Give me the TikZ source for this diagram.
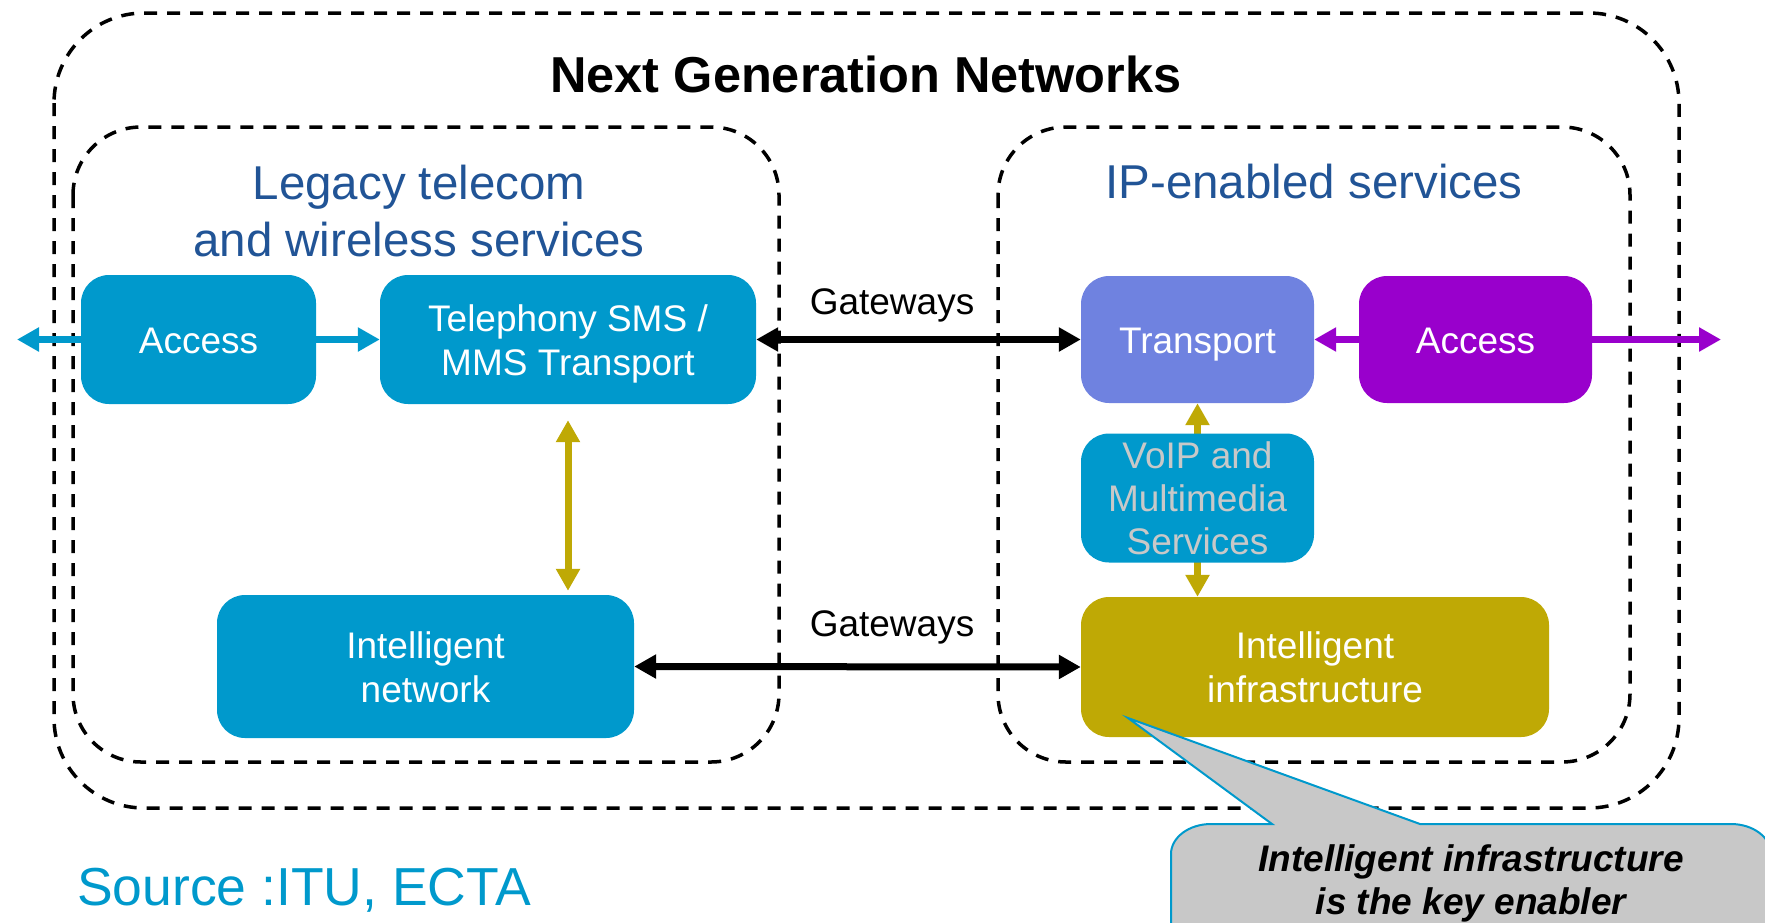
\documentclass[tikz,border=0pt]{standalone}
\usepackage{fontspec}
\setmainfont{Liberation Sans}
\usetikzlibrary{arrows.meta}
\definecolor{cblue}{RGB}{0,153,204}
\definecolor{cnavy}{RGB}{33,84,150}
\definecolor{ctrans}{RGB}{111,130,224}
\definecolor{cpurple}{RGB}{153,0,204}
\definecolor{colive}{RGB}{191,169,5}
\definecolor{cgray}{RGB}{200,200,200}
\newcommand{\boxtext}[2][5pt]{\raisebox{-#1}[\height][\depth]{\begin{tabular}{@{}c@{}}#2\end{tabular}}}
\tikzset{
  dashedbox/.style={draw=black, line width=3.5pt, dash pattern=on 13pt off 10pt},
  block/.style={rounded corners=28pt, text=white, inner sep=0pt, align=center,
    font=\fontsize{37}{44}\selectfont},
  heading/.style={text=cnavy, align=center, font=\fontsize{47.5}{57}\selectfont},
  tip/.style={-{Triangle[length=22pt,width=23pt]}},
  dtip/.style={{Triangle[length=22pt,width=23pt]}-{Triangle[length=22pt,width=23pt]}},
  conn/.style={line width=7pt},
  gwlabel/.style={font=\fontsize{37}{44}\selectfont},
}
\begin{document}
\begin{tikzpicture}[x=1pt,y=-1pt]
\useasboundingbox (0,0) rectangle (1765,922);
% containers
\draw[dashedbox, rounded corners=90pt] (54,13) rectangle (1679,808);
\draw[dashedbox, rounded corners=68pt] (73,127) rectangle (779,762);
\draw[dashedbox, rounded corners=68pt] (998,127) rectangle (1630,762);
% titles
\node[font=\bfseries\fontsize{50.5}{60}\selectfont] (title) at (866,74) {Next Generation Networks};
\node[heading] (legacy) at (419,211) {Legacy telecom\\and wireless services};
\node[heading] (ip) at (1314,182) {IP-enabled services};
% boxes
\node[block, fill=cblue, minimum width=235pt, minimum height=129pt] (accL) at (198.5,339.5) {\boxtext{Access}};
\node[block, fill=cblue, minimum width=376pt, minimum height=129pt] (tel) at (568,339.5) {\boxtext{Telephony SMS /\\MMS Transport}};
\node[block, fill=ctrans, minimum width=233pt, minimum height=127pt] (tr) at (1197.5,339.5) {\boxtext{Transport}};
\node[block, fill=cpurple, minimum width=233pt, minimum height=127pt] (accR) at (1475.5,339.5) {\boxtext{Access}};
\node[block, fill=cblue, minimum width=417pt, minimum height=143pt] (inet) at (425.5,666.5) {\boxtext{Intelligent\\network}};
\node[block, fill=colive, minimum width=468pt, minimum height=140pt] (infra) at (1315,667) {\boxtext{Intelligent\\infrastructure}};
% olive arrow behind VoIP box
\draw[conn, colive, dtip] (tr.south) -- (tr.south |- infra.north);
\node[block, fill=cblue, text=cgray, minimum width=233pt, minimum height=128pt,
  font=\fontsize{37}{43}\selectfont] (voip) at (1197.5,498) {\boxtext{VoIP and\\Multimedia\\Services}};
% connectors
\coordinate (leftend) at (17,339.5);
\coordinate (rightend) at (1721,339.5);
\draw[conn, cblue, tip] (accL.west) -- (leftend);
\draw[conn, cblue, tip] (accL.east) -- (tel.west);
\draw[conn, black, dtip] (tel.east) -- (tr.west);
\draw[conn, black, dtip] (inet.east) -- (infra.west);
\draw[conn, colive, dtip, shorten <=16pt, shorten >=4pt] (tel.south) -- (tel.south |- inet.north);
\draw[conn, cpurple, tip] (accR.west) -- (tr.east);
\draw[conn, cpurple, tip] (accR.east) -- (rightend);
% gateway labels
\node[gwlabel] (gw1) at (892,305) {Gateways};
\node[gwlabel] (gw2) at (892,627) {Gateways};
% callout
\begin{scope}
\clip (0,0) rectangle (1765,922);
\draw[fill=cgray, draw=cblue, line width=2pt]
  (1272,824) -- (1128,718) -- (1420,824) -- (1731,824)
  arc[start angle=270, end angle=360, x radius=40, y radius=30]
  -- (1771,960) -- (1171,960) -- (1171,854)
  arc[start angle=180, end angle=270, x radius=40, y radius=30] -- cycle;
\end{scope}
\node[font=\bfseries\itshape\fontsize{37}{43}\selectfont, align=center] (callout) at (1471,883)
  {Intelligent infrastructure\\is the key enabler};
% source
\node[text=cblue, font=\fontsize{53.5}{60}\selectfont, anchor=west, inner sep=0pt] (source) at (77,890) {Source :ITU, ECTA};
\end{tikzpicture}
\end{document}
